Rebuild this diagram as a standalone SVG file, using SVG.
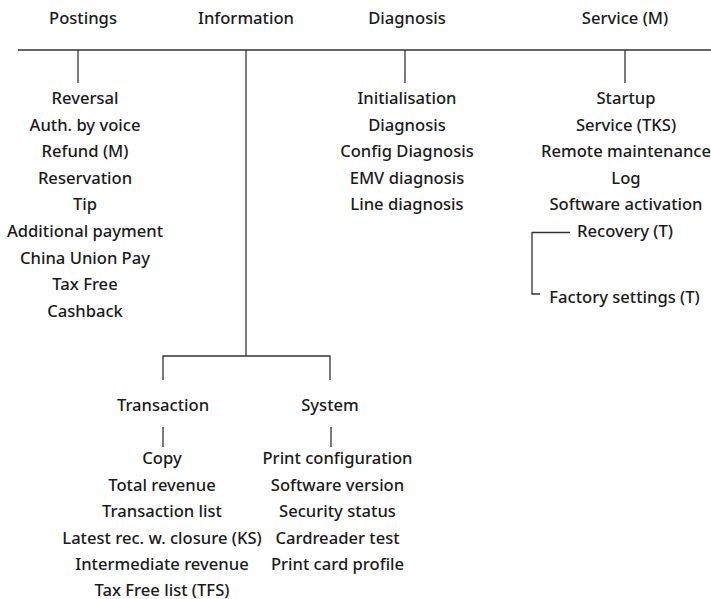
<svg xmlns="http://www.w3.org/2000/svg" width="711" height="599" viewBox="0 0 711 599">
<style>
text{font-family:"Noto Sans","Open Sans","DejaVu Sans",sans-serif;font-size:16.6px;font-weight:500;fill:#1a1a1a;text-anchor:middle}
line,polyline{stroke:#333;stroke-width:1.3;fill:none}
</style>
<rect width="711" height="599" fill="#fff"/>
<g id="connectors">
<line x1="18" y1="50" x2="711" y2="50"/>
<line x1="78" y1="50" x2="78" y2="83"/>
<line x1="246" y1="50" x2="246" y2="356"/>
<line x1="405" y1="50" x2="405" y2="83"/>
<line x1="625" y1="50" x2="625" y2="83"/>
<polyline points="163,380 163,356 330,356 330,380"/>
<line x1="163" y1="427" x2="163" y2="447"/>
<line x1="331" y1="427" x2="331" y2="447"/>
<polyline points="570,232.5 532,232.5 532,294 540,294"/>
</g>
<g id="postings">
<text x="83" y="24">Postings</text>
<text x="85" y="104">Reversal</text>
<text x="85" y="130.6">Auth. by voice</text>
<text x="85" y="157.2">Refund (M)</text>
<text x="85" y="183.8">Reservation</text>
<text x="85" y="210.4">Tip</text>
<text x="85" y="237">Additional payment</text>
<text x="85" y="263.6">China Union Pay</text>
<text x="85" y="290.2">Tax Free</text>
<text x="85" y="316.8">Cashback</text>
</g>
<g id="information"><text x="246" y="24">Information</text></g>
<g id="diagnosis">
<text x="407" y="24">Diagnosis</text>
<text x="407" y="104">Initialisation</text>
<text x="407" y="130.6">Diagnosis</text>
<text x="407" y="157.2">Config Diagnosis</text>
<text x="407" y="183.8">EMV diagnosis</text>
<text x="407" y="210.4">Line diagnosis</text>
</g>
<g id="service">
<text x="625" y="24">Service (M)</text>
<text x="626" y="104">Startup</text>
<text x="626" y="130.6">Service (TKS)</text>
<text x="626" y="157.2">Remote maintenance</text>
<text x="626" y="183.8">Log</text>
<text x="626" y="210.4">Software activation</text>
</g>
<g id="recovery"><text x="625" y="237">Recovery (T)</text></g>
<g id="factory"><text x="624.5" y="303">Factory settings (T)</text></g>
<g id="transaction">
<text x="163" y="411">Transaction</text>
<text x="162" y="464">Copy</text>
<text x="162" y="490.6">Total revenue</text>
<text x="162" y="517.2">Transaction list</text>
<text x="162" y="543.8">Latest rec. w. closure (KS)</text>
<text x="162" y="570.4">Intermediate revenue</text>
<text x="162" y="595.5">Tax Free list (TFS)</text>
</g>
<g id="system">
<text x="330" y="411">System</text>
<text x="337.5" y="464">Print configuration</text>
<text x="337.5" y="490.6">Software version</text>
<text x="337.5" y="517.2">Security status</text>
<text x="337.5" y="543.8">Cardreader test</text>
<text x="337.5" y="570.4">Print card profile</text>
</g>
</svg>
